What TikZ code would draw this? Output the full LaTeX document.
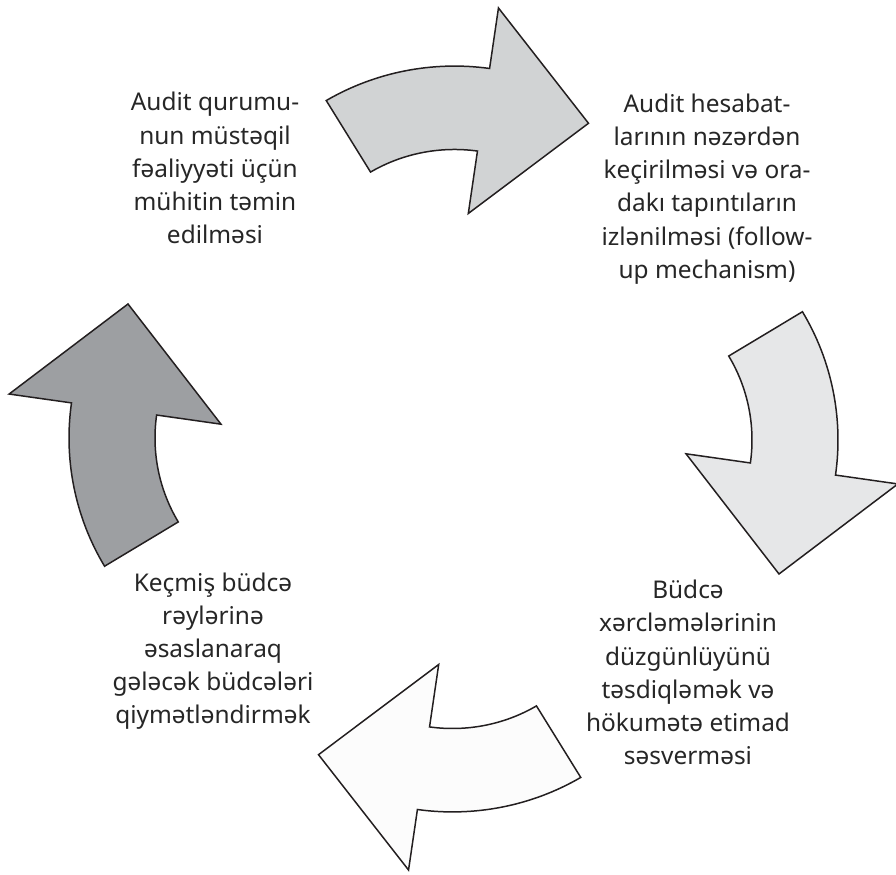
\documentclass[tikz,border=0pt]{standalone}
\usepackage{fontspec}
\setmainfont{Noto Sans}
\usepackage{xcolor}
\usepackage{tikz}
\usetikzlibrary{positioning}

\definecolor{arrowA}{RGB}{209,211,212}
\definecolor{arrowB}{RGB}{230,231,232}
\definecolor{arrowC}{RGB}{252,252,252}
\definecolor{arrowD}{RGB}{157,159,162}
\definecolor{edgeline}{RGB}{35,31,32}

% one bent block arrow, drawn round the centre of its arc
\newcommand{\bentarrow}{%
  (31:249) arc[start angle=31, end angle=-8.1, radius=249]
  -- (-8.1:312) -- (190,-134) -- (-8.1:98) -- (-8.1:163)
  arc[start angle=-8.1, end angle=31, radius=163] -- cycle}

\begin{document}
\begin{tikzpicture}[
    x=0.02cm, y=0.02cm,
    shp/.style={draw=edgeline, line width=0.85pt, line join=miter},
    lbl/.style={align=center, text=black!85, font=\fontsize{13.9}{18.9}\selectfont}
]
    \useasboundingbox (0,0) rectangle (896,875);

    % arrows, clockwise from the top
    \draw [shp, fill=arrowA, shift={(454.5,567.4)}, yscale=0.97, rotate=90] \bentarrow;
    \draw [shp, fill=arrowB, shift={(589,435)}] \bentarrow;
    \draw [shp, fill=arrowC, shift={(452.5,304.6)}, yscale=0.97, rotate=-90] \bentarrow;
    \draw [shp, fill=arrowD, shift={(318,437)}, rotate=180] \bentarrow;

    \node [lbl] (n1) at (215,706.8) {Audit qurumu-\\nun müstəqil\\fəaliyyəti üçün\\mühitin təmin\\edilməsi};
    \node [lbl] (n2) at (707,686.1) {Audit hesabat-\\larının nəzərdən\\keçirilməsi və ora-\\dakı tapıntıların\\izlənilməsi (follow-\\up mechanism)};
    \node [lbl] (n3) at (688,202.5) {Büdcə\\xərcləmələrinin\\düzgünlüyünü\\təsdiqləmək və\\hökumətə etimad\\səsverməsi};
    \node [lbl] (n4) at (213,223.8) {Keçmiş büdcə\\rəylərinə\\əsaslanaraq\\gələcək büdcələri\\qiymətləndirmək};
\end{tikzpicture}
\end{document}
